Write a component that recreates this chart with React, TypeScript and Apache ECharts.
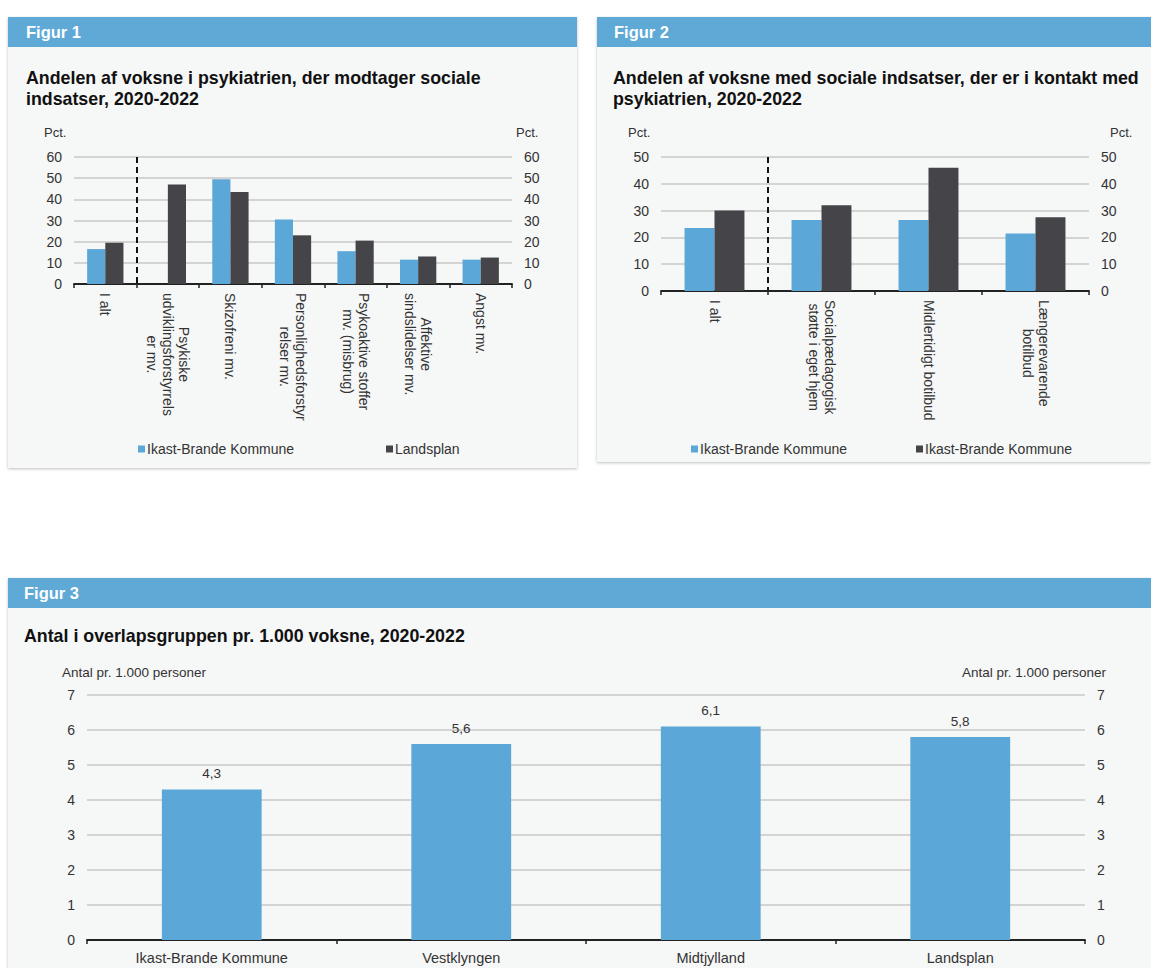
import React, { useEffect, useRef } from 'react';
import * as echarts from 'echarts';

const FONT = "'Liberation Sans', Arial, Helvetica, sans-serif";
const BLUE = '#5ba7d7';
const DARK = '#454549';
const HEADER = '#5ea9d6';
const PANEL = '#f6f7f7';
const GRID = '#c8c8c8';
const AXIS = '#222222';
const TXT = '#333333';

// Figur 1
const fig1Categories = [
  'I alt',
  'Psykiske\nudviklingsforstyrrels\ner mv.',
  'Skizofreni mv.',
  'Personlighedsforstyr\nrelser mv.',
  'Psykoaktive stoffer\nmv. (misbrug)',
  'Affektive\nsindslidelser mv.',
  'Angst mv.',
];
const fig1Ikast = [16.5, null, 49.5, 30.5, 15.5, 11.5, 11.5];
const fig1Lands = [19.5, 47, 43.5, 23, 20.5, 13, 12.5];
const fig1Max = 60;
const fig1Interval = 10;

// Figur 2
const fig2Categories = ['I alt', 'Socialpædagogisk\nstøtte i eget hjem', 'Midlertidigt botilbud', 'Længerevarende\nbotilbud'];
const fig2Ikast = [23.5, 26.5, 26.5, 21.5];
const fig2Second = [30, 32, 46, 27.5];
const fig2Max = 50;
const fig2Interval = 10;

// Figur 3
const fig3Categories = ['Ikast-Brande Kommune', 'Vestklyngen', 'Midtjylland', 'Landsplan'];
const fig3Values = [4.3, 5.6, 6.1, 5.8];
const fig3Max = 7;
const fig3Interval = 1;

const richFormatter = (v: string) =>
  v
    .split('\n')
    .map((l) => `{c|${l}}`)
    .join('\n');

function yAxes(gridIndex: number, max: number, interval: number) {
  const common = {
    type: 'value',
    gridIndex,
    min: 0,
    max,
    interval,
    axisLine: { show: false },
    axisTick: { show: false },
    axisLabel: { fontSize: 14, color: TXT, fontFamily: FONT, margin: 12 },
  };
  return [
    { ...common, position: 'left', splitLine: { show: true, lineStyle: { color: GRID, width: 1.5 } } },
    { ...common, position: 'right', splitLine: { show: false } },
  ];
}

function xAxis(gridIndex: number, data: string[], rotated: boolean, separator: boolean) {
  return {
    type: 'category',
    gridIndex,
    data,
    axisLine: { lineStyle: { color: AXIS, width: 1.8 } },
    axisTick: { show: true, length: 4, lineStyle: { color: AXIS, width: 1.5 } },
    axisLabel: rotated
      ? {
          rotate: -90,
          interval: 0,
          margin: 9,
          formatter: richFormatter,
          rich: { c: { align: 'center', fontSize: 14, lineHeight: 16, color: TXT, fontFamily: FONT } },
        }
      : { interval: 0, margin: 10, fontSize: 14.5, color: TXT, fontFamily: FONT },
    splitLine: separator
      ? {
          show: true,
          interval: (i: number) => i <= 1,
          showMinLine: false,
          showMaxLine: false,
          lineStyle: { type: [6, 4], color: '#111111', width: 2 },
        }
      : { show: false },
  };
}

function txt(x: number, y: number, text: string, size: number, opts: any = {}) {
  return {
    type: 'text',
    x,
    y,
    z: 10,
    style: {
      text,
      fill: opts.fill || TXT,
      font: `${opts.bold ? 'bold ' : ''}${size}px ${FONT}`,
      textAlign: opts.align || 'left',
      textVerticalAlign: 'middle',
    },
  };
}

function panel(x: number, y: number, w: number, h: number) {
  return [
    {
      type: 'rect',
      z: -100,
      shape: { x, y, width: w, height: h },
      style: { fill: PANEL, shadowBlur: 3, shadowOffsetY: 1, shadowColor: 'rgba(0,0,0,0.25)' },
    },
    { type: 'rect', z: -90, shape: { x, y, width: w, height: 30 }, style: { fill: HEADER } },
  ];
}

function legend(left: number, name: string, label: string) {
  return {
    left,
    top: 437,
    itemWidth: 7,
    itemHeight: 7,
    itemGap: 0,
    icon: 'rect',
    data: [name],
    formatter: () => label,
    textStyle: { fontSize: 14, color: TXT, fontFamily: FONT, padding: [0, 0, 0, -3] },
  };
}

export default function App() {
  const ref = useRef<HTMLDivElement>(null);
  useEffect(() => {
    if (!ref.current) return;
    const chart = echarts.init(ref.current, undefined, { renderer: 'svg' });
    const option: any = {
      animation: false,
      backgroundColor: '#ffffff',
      textStyle: { fontFamily: FONT },
      graphic: [
        ...panel(8, 17, 569, 451),
        ...panel(597, 17, 554, 445),
        ...panel(8, 578, 1143, 390),
        txt(26, 32, 'Figur 1', 16.5, { bold: true, fill: '#ffffff' }),
        txt(614, 32, 'Figur 2', 16.5, { bold: true, fill: '#ffffff' }),
        txt(24, 593, 'Figur 3', 16.5, { bold: true, fill: '#ffffff' }),
        txt(26, 78, 'Andelen af voksne i psykiatrien, der modtager sociale', 17.8, { bold: true, fill: '#111111' }),
        txt(26, 99, 'indsatser, 2020-2022', 17.8, { bold: true, fill: '#111111' }),
        txt(613, 78, 'Andelen af voksne med sociale indsatser, der er i kontakt med', 17.8, { bold: true, fill: '#111111' }),
        txt(613, 99, 'psykiatrien, 2020-2022', 17.8, { bold: true, fill: '#111111' }),
        txt(24, 636, 'Antal i overlapsgruppen pr. 1.000 voksne, 2020-2022', 17.8, { bold: true, fill: '#111111' }),
        txt(44, 132, 'Pct.', 13),
        txt(516, 132, 'Pct.', 13),
        txt(628, 132, 'Pct.', 13),
        txt(1110, 132, 'Pct.', 13),
        txt(62, 672, 'Antal pr. 1.000 personer', 13.5),
        txt(1106, 672, 'Antal pr. 1.000 personer', 13.5, { align: 'right' }),
      ],
      legend: [
        legend(133, 'Ikast-Brande Kommune', 'Ikast-Brande Kommune'),
        legend(381, 'Landsplan', 'Landsplan'),
        legend(686, 'Ikast-Brande Kommune', 'Ikast-Brande Kommune'),
        legend(911, 'Ikast-Brande Kommune (Figur 2)', 'Ikast-Brande Kommune'),
      ],
      grid: [
        { left: 74, top: 157, width: 438, height: 127 },
        { left: 661, top: 157, width: 428, height: 134 },
        { left: 87, top: 695, width: 998, height: 245 },
      ],
      xAxis: [
        xAxis(0, fig1Categories, true, true),
        xAxis(1, fig2Categories, true, true),
        xAxis(2, fig3Categories, false, false),
      ],
      yAxis: [
        ...yAxes(0, fig1Max, fig1Interval),
        ...yAxes(1, fig2Max, fig2Interval),
        ...yAxes(2, fig3Max, fig3Interval),
      ],
      series: [
        {
          type: 'bar',
          name: 'Ikast-Brande Kommune',
          xAxisIndex: 0,
          yAxisIndex: 0,
          data: fig1Ikast,
          itemStyle: { color: BLUE },
          barGap: '0%',
          barCategoryGap: '42%',
        },
        {
          type: 'bar',
          name: 'Landsplan',
          xAxisIndex: 0,
          yAxisIndex: 0,
          data: fig1Lands,
          itemStyle: { color: DARK },
          barGap: '0%',
          barCategoryGap: '42%',
        },
        {
          type: 'bar',
          name: 'Ikast-Brande Kommune',
          xAxisIndex: 1,
          yAxisIndex: 2,
          data: fig2Ikast,
          itemStyle: { color: BLUE },
          barGap: '0%',
          barCategoryGap: '44%',
        },
        {
          type: 'bar',
          name: 'Ikast-Brande Kommune (Figur 2)',
          xAxisIndex: 1,
          yAxisIndex: 2,
          data: fig2Second,
          itemStyle: { color: DARK },
          barGap: '0%',
          barCategoryGap: '44%',
        },
        {
          type: 'bar',
          name: 'Overlapsgruppen',
          xAxisIndex: 2,
          yAxisIndex: 4,
          data: fig3Values,
          itemStyle: { color: BLUE },
          barCategoryGap: '60%',
          label: {
            show: true,
            position: 'top',
            distance: 9,
            fontSize: 13.5,
            color: TXT,
            fontFamily: FONT,
            formatter: (p: any) => String(p.value).replace('.', ','),
          },
        },
      ],
    };
    chart.setOption(option);
    return () => chart.dispose();
  }, []);
  return <div ref={ref} style={{ position: 'absolute', left: 0, top: 0, width: 1151, height: 968 }} />;
}
